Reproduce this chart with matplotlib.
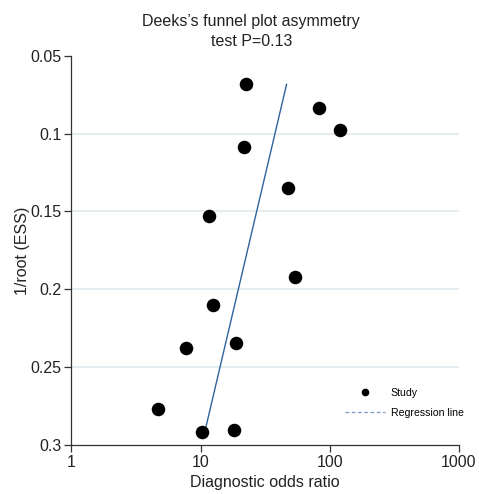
import matplotlib
matplotlib.use("Agg")
import matplotlib.pyplot as plt
from matplotlib.lines import Line2D
import numpy as np

plt.rcParams['font.family'] = ['Liberation Sans', 'DejaVu Sans']

# Study data: diagnostic odds ratio and 1/sqrt(ESS)
dor = [22.4, 82.4, 119.7, 21.6, 47.6, 11.6, 53.7, 12.5, 18.8, 7.65, 4.67, 10.2, 18.2]
inv_root_ess = [0.0684, 0.0834, 0.0977, 0.1084, 0.1347, 0.1529, 0.1919, 0.2100,
                0.2343, 0.2378, 0.2770, 0.2918, 0.2903]

# Regression: log10(DOR) = intercept + slope * (1/root(ESS))
reg_intercept = 1.860
reg_slope = -2.837

yticks = [0.05, 0.1, 0.15, 0.2, 0.25, 0.3]
ytick_labels = ["0.05", "0.1", "0.15", "0.2", "0.25", "0.3"]
xticks = [1, 10, 100, 1000]
xtick_labels = ["1", "10", "100", "1000"]

fig = plt.figure(figsize=(4.79, 4.94), dpi=100)
ax = fig.add_axes([0.149, 0.0992, 0.809, 0.788])

ax.set_xscale('log')
ax.set_xlim(1, 1000)
ax.set_ylim(0.3, 0.05)

for g in [0.1, 0.15, 0.2, 0.25]:
    ax.axhline(g, color='#e4ecef', lw=1.4, zorder=0)

ax.scatter(dor, inv_root_ess, s=95, color='black', zorder=3, linewidths=0)

yy = np.array([min(inv_root_ess), max(inv_root_ess)])
xx = 10 ** (reg_intercept + reg_slope * yy)
ax.plot(xx, yy, color='#2e62a0', lw=1.0, zorder=2)

ax.set_xticks(xticks)
ax.set_xticklabels(xtick_labels)
ax.minorticks_off()
ax.set_yticks(yticks)
ax.set_yticklabels(ytick_labels)

for s in ['top', 'right']:
    ax.spines[s].set_visible(False)
for s in ['left', 'bottom']:
    ax.spines[s].set_color('#333333')
    ax.spines[s].set_linewidth(0.9)
ax.tick_params(axis='both', colors='#333333', labelcolor='#222222', labelsize=11.5,
               length=5, width=0.9, pad=2)

ax.set_xlabel("Diagnostic odds ratio", fontsize=11.5, color='#222222', labelpad=4)
ax.set_ylabel("1/root (ESS)", fontsize=11.5, color='#222222', labelpad=0.5)
ax.set_title("Deeks\u2019s funnel plot asymmetry\ntest P=0.13", fontsize=11.5,
             color='#222222', pad=7, linespacing=1.38, x=0.4645)

handles = [
    Line2D([0], [0], marker='o', color='none', markerfacecolor='black',
           markeredgecolor='none', markersize=5.5, label='Study'),
    Line2D([0], [0], color='#7a9cc8', lw=0.9, ls=(0, (3, 2)), label='Regression line'),
]
leg = ax.legend(handles=handles, loc='upper left', bbox_to_anchor=(0.706, 0.146),
                frameon=False, fontsize=7.6, handlelength=3.8, handletextpad=0.55,
                labelspacing=0.95, borderpad=0, borderaxespad=0)

fig.savefig("out.png", dpi=100)
